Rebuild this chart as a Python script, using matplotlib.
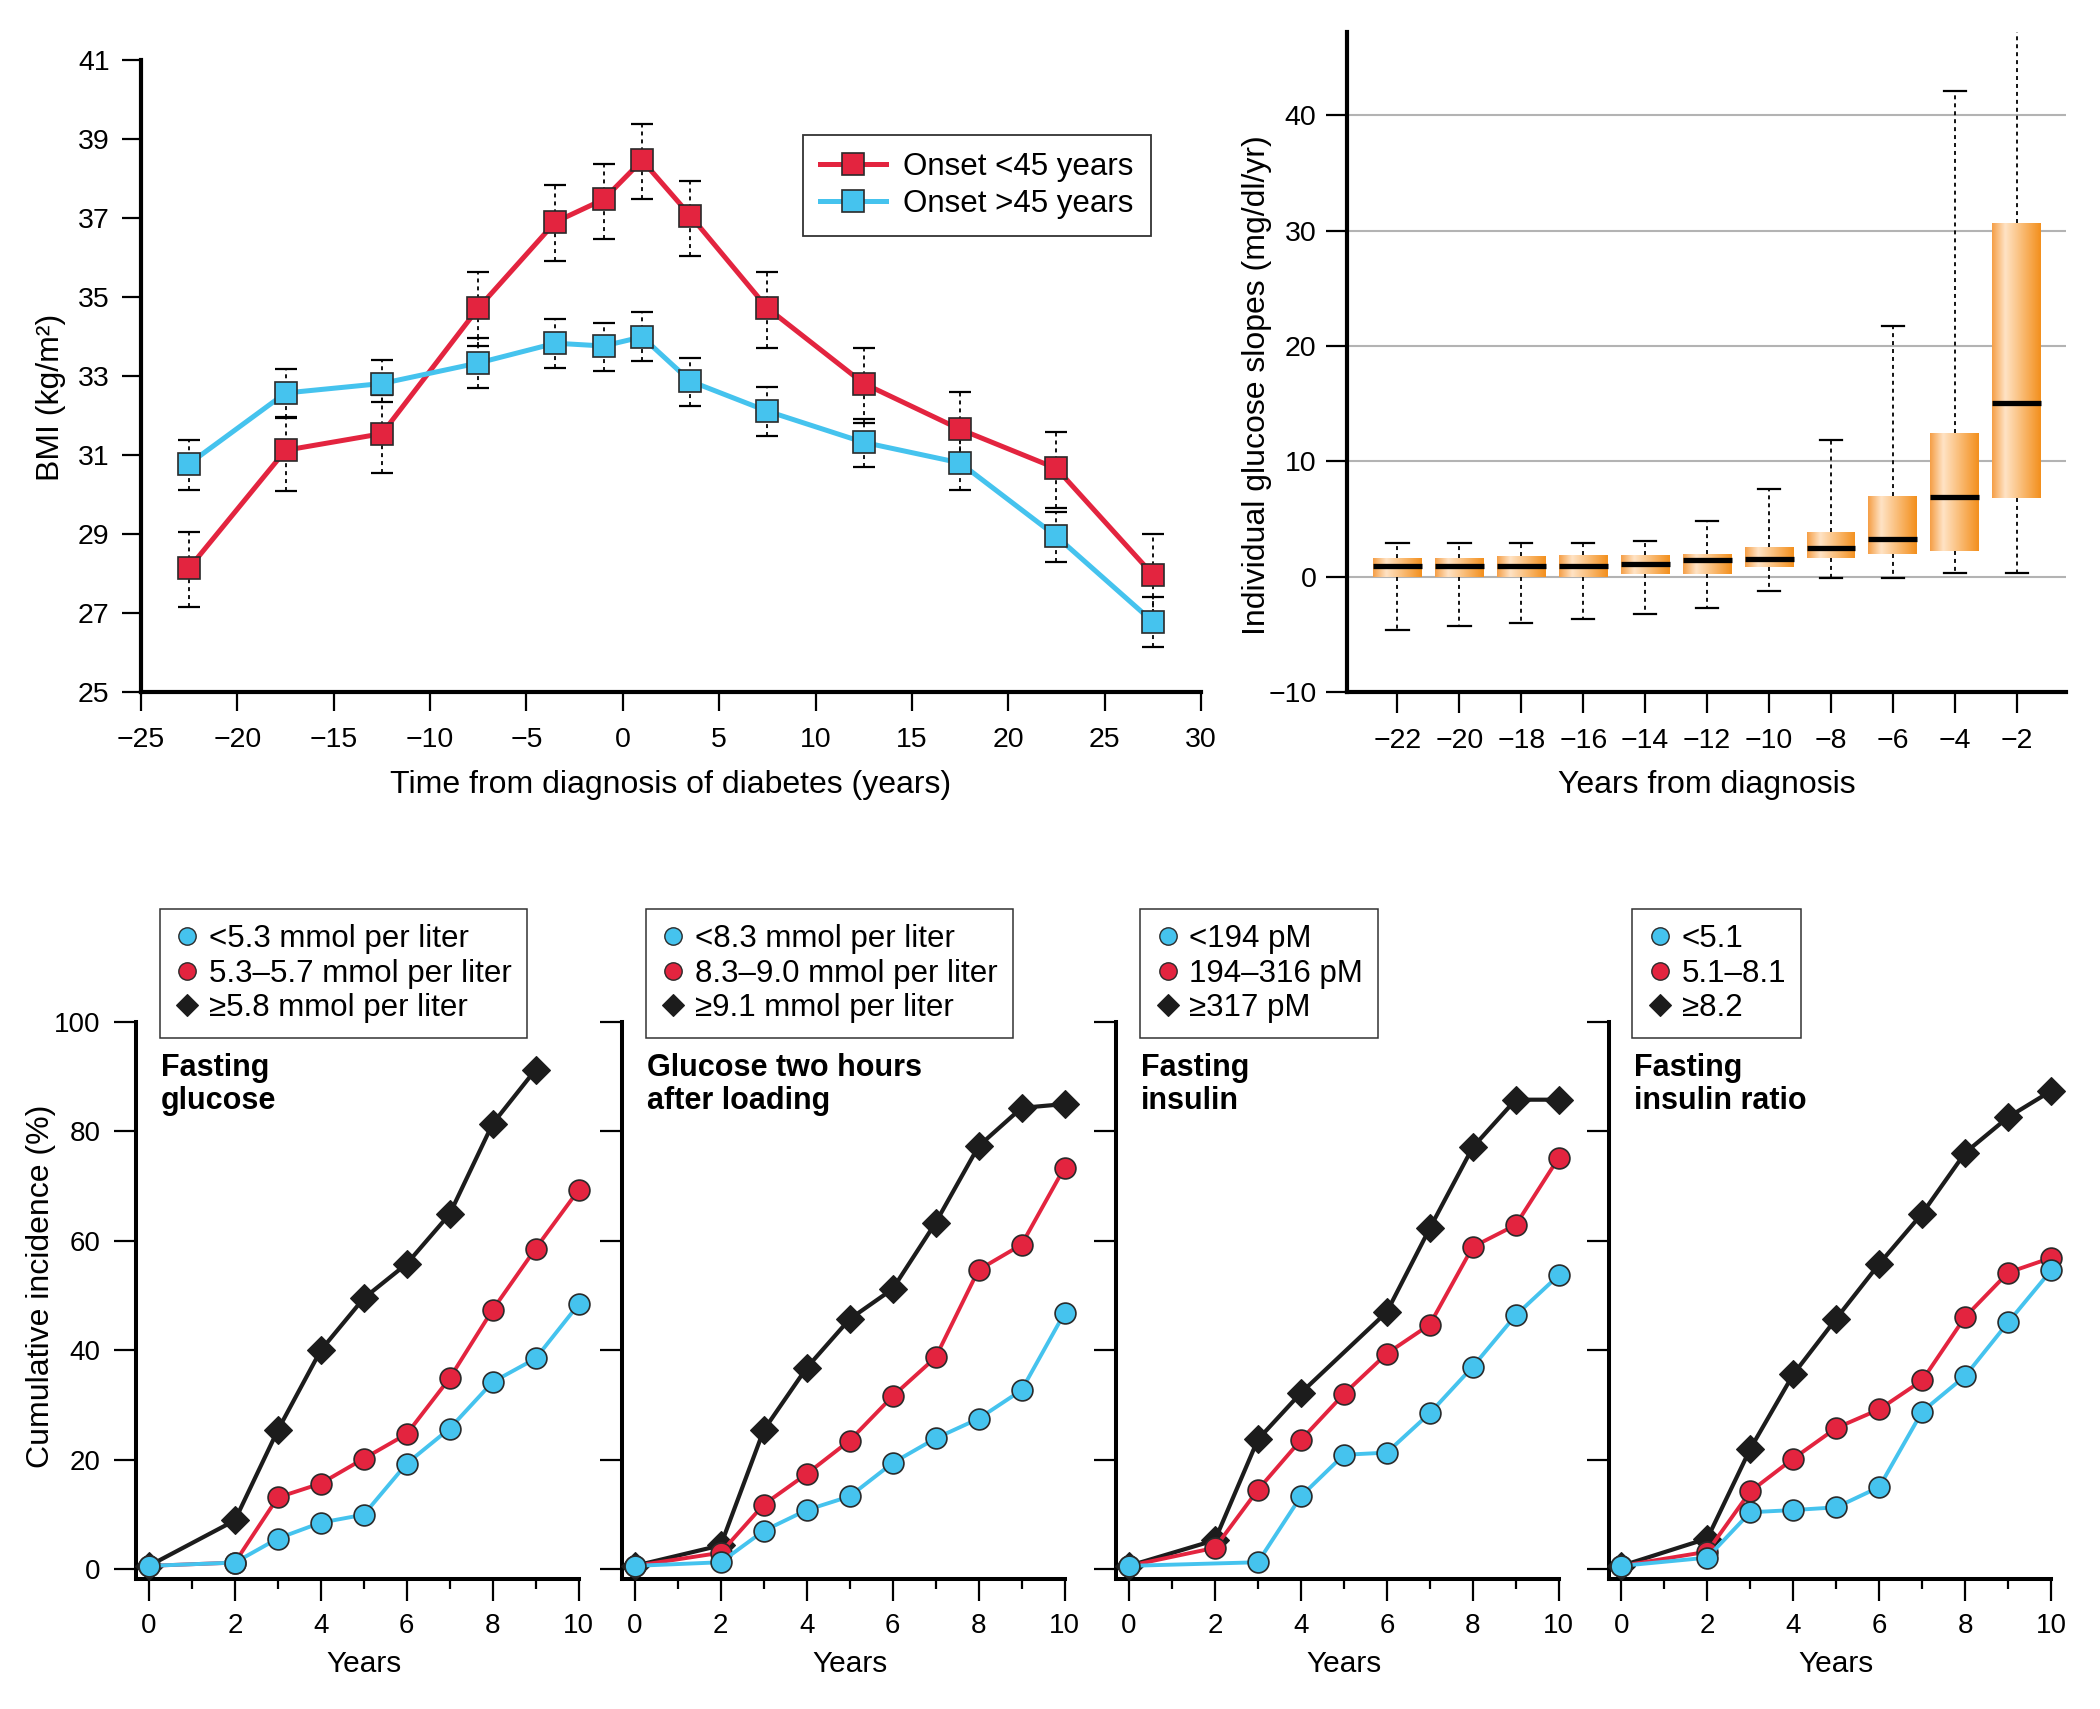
import numpy as np
import matplotlib
matplotlib.use('Agg')
import matplotlib.pyplot as plt
from matplotlib.colors import LinearSegmentedColormap
from matplotlib.lines import Line2D
from matplotlib.ticker import MultipleLocator

plt.rcParams['font.family'] = ['Liberation Sans', 'DejaVu Sans']

RED = '#E3243F'
CYAN = '#45C3EE'
BLACK = '#1C1C1C'
EDGE = '#2A2A2A'

# ---------------- Panel A: BMI trajectories ----------------
bmi_time = [-22.5, -17.5, -12.5, -7.5, -3.5, -1, 1, 3.5, 7.5, 12.5, 17.5, 22.5, 27.5]
bmi_young = [28.14, 31.12, 31.54, 34.72, 36.90, 37.47, 38.46, 37.06, 34.72, 32.81, 31.65, 30.66, 27.97]
bmi_young_lo = [27.15, 30.10, 30.55, 33.75, 35.92, 36.48, 37.47, 36.04, 33.72, 31.80, 30.68, 29.66, 27.00]
bmi_young_hi = [29.06, 31.97, 32.53, 35.63, 37.83, 38.37, 39.37, 37.94, 35.63, 33.72, 32.59, 31.57, 29.00]
bmi_old = [30.78, 32.57, 32.81, 33.33, 33.83, 33.76, 33.99, 32.87, 32.11, 31.32, 30.80, 28.94, 26.78]
bmi_old_lo = [30.11, 31.94, 32.34, 32.69, 33.20, 33.12, 33.37, 32.23, 31.49, 30.70, 30.11, 28.30, 26.15]
bmi_old_hi = [31.37, 33.17, 33.41, 33.95, 34.45, 34.33, 34.61, 33.45, 32.72, 31.91, 31.41, 29.56, 27.40]
bmi_labels = ['Onset <45 years', 'Onset >45 years']

# ---------------- Panel B: glucose slope boxes ----------------
box_years = [-22, -20, -18, -16, -14, -12, -10, -8, -6, -4, -2]
box_low = [-4.63, -4.30, -4.00, -3.67, -3.27, -2.68, -1.27, -0.09, -0.09, 0.32, 0.32]
box_q1 = [0.0, 0.0, 0.0, 0.0, 0.27, 0.23, 0.86, 1.59, 1.95, 2.22, 6.80]
box_med = [0.95, 0.95, 0.95, 0.95, 1.09, 1.45, 1.54, 2.49, 3.27, 6.89, 15.10]
box_q3 = [1.60, 1.60, 1.80, 1.86, 1.86, 2.00, 2.54, 3.85, 7.03, 12.43, 30.66]
box_high = [2.90, 2.90, 2.90, 2.90, 3.08, 4.80, 7.62, 11.88, 21.77, 42.09, 55.0]

# ---------------- Panels C-F: cumulative incidence ----------------
years = [0, 2, 3, 4, 5, 6, 7, 8, 9, 10]

fg_low_x = years
fg_low = [0.6, 1.2, 5.6, 8.5, 9.95, 19.3, 25.7, 34.2, 38.5, 48.4]
fg_mid_x = years
fg_mid = [0.6, 1.2, 13.1, 15.65, 20.2, 24.7, 34.9, 47.4, 58.6, 69.3]
fg_high_x = [0, 2, 3, 4, 5, 6, 7, 8, 9]
fg_high = [0.6, 8.9, 25.4, 40.0, 49.5, 55.8, 64.9, 81.4, 91.3]

g2_low_x = years
g2_low = [0.6, 1.26, 7.0, 10.8, 13.3, 19.4, 23.9, 27.5, 32.7, 46.8]
g2_mid_x = years
g2_mid = [0.6, 3.0, 11.8, 17.4, 23.5, 31.6, 38.7, 54.7, 59.3, 73.4]
g2_high_x = years
g2_high = [0.6, 4.35, 25.4, 36.8, 45.7, 51.2, 63.3, 77.3, 84.3, 85.0]

fi_low_x = [0, 3, 4, 5, 6, 7, 8, 9, 10]
fi_low = [0.6, 1.26, 13.3, 20.9, 21.3, 28.5, 37.0, 46.4, 53.7]
fi_mid_x = years
fi_mid = [0.6, 3.9, 14.5, 23.6, 32.0, 39.4, 44.7, 58.9, 62.9, 75.2]
fi_high_x = [0, 2, 3, 4, 6, 7, 8, 9, 10]
fi_high = [0.6, 5.3, 23.7, 32.2, 47.0, 62.3, 77.1, 85.8, 85.8]

fr_low_x = years
fr_low = [0.6, 2.1, 10.4, 10.8, 11.3, 15.0, 28.8, 35.3, 45.1, 54.6]
fr_mid_x = years
fr_mid = [0.6, 3.2, 14.2, 20.2, 25.8, 29.2, 34.5, 46.1, 54.2, 56.9]
fr_high_x = years
fr_high = [0.6, 5.6, 22.0, 35.6, 45.8, 55.8, 65.0, 76.1, 82.6, 87.4]

panel_titles = ['Fasting\nglucose', 'Glucose two hours\nafter loading',
                'Fasting\ninsulin', 'Fasting\ninsulin ratio']
legend_fg = ['<5.3 mmol per liter', '5.3\u20135.7 mmol per liter', '\u22655.8 mmol per liter']
legend_g2 = ['<8.3 mmol per liter', '8.3\u20139.0 mmol per liter', '\u22659.1 mmol per liter']
legend_fi = ['<194 pM', '194\u2013316 pM', '\u2265317 pM']
legend_fr = ['<5.1', '5.1\u20138.1', '\u22658.2']

W, H = 2100, 1709
fig = plt.figure(figsize=(W / 100, H / 100), dpi=100)


def frac(left, top, right, bottom):
    return [left / W, 1 - bottom / H, (right - left) / W, (bottom - top) / H]


# ======== Panel A ========
ax1 = fig.add_axes(frac(141, 60, 1201, 692))
for y, lo, hi in [(bmi_young, bmi_young_lo, bmi_young_hi),
                  (bmi_old, bmi_old_lo, bmi_old_hi)]:
    yerr = [np.array(y) - np.array(lo), np.array(hi) - np.array(y)]
    eb = ax1.errorbar(bmi_time, y, yerr=yerr, fmt='none', ecolor='black',
                      elinewidth=1.3, capsize=8, capthick=1.6, zorder=2)
    eb[2][0].set_linestyle((0, (2.2, 2.2)))
for y, col, lab, z in [(bmi_young, RED, bmi_labels[0], 3), (bmi_old, CYAN, bmi_labels[1], 4)]:
    ax1.plot(bmi_time, y, color=col, lw=3.6, marker='s', ms=16, mfc=col,
             mec=EDGE, mew=1.2, label=lab, zorder=z, clip_on=False)
ax1.set_xlim(-25, 30)
ax1.set_ylim(25, 41)
ax1.set_xticks(range(-25, 31, 5))
ax1.set_yticks(range(25, 42, 2))
for s in ['top', 'right']:
    ax1.spines[s].set_visible(False)
for s in ['left', 'bottom']:
    ax1.spines[s].set_linewidth(3)
ax1.tick_params(axis='both', direction='out', length=14, width=1.6, labelsize=20.5)
ax1.tick_params(axis='x', pad=11)
ax1.tick_params(axis='y', pad=8.6)
ax1.set_xlabel('Time from diagnosis of diabetes (years)', fontsize=23)
ax1.xaxis.set_label_coords(0.5, -0.123)
ax1.set_ylabel('BMI (kg/m\u00b2)', fontsize=23)
ax1.yaxis.set_label_coords(-0.071, 0.466)
leg = ax1.legend(loc='upper left', bbox_to_anchor=(0.6245, 0.881), borderaxespad=0,
                 fontsize=22.5, frameon=True, fancybox=False, edgecolor='black',
                 handlelength=2.1, handletextpad=0.55, borderpad=0.55, labelspacing=0.2)
leg.get_frame().set_linewidth(1.3)

# ======== Panel B ========
ax2 = fig.add_axes(frac(1347, 32.4, 2066, 692))
stats = []
for lo, q1, md, q3, hi in zip(box_low, box_q1, box_med, box_q3, box_high):
    stats.append(dict(whislo=lo, q1=q1, med=md, q3=q3, whishi=hi, fliers=[]))
bw = 1.58
bp = ax2.bxp(stats, positions=box_years, widths=bw, patch_artist=True,
             showfliers=False, capwidths=0.72,
             boxprops=dict(facecolor='#F7A64E', edgecolor='none', linewidth=0),
             medianprops=dict(color='black', linewidth=3.8, solid_capstyle='butt', zorder=5),
             whiskerprops=dict(color='black', linewidth=1.3, linestyle=(0, (2.2, 2.2))),
             capprops=dict(color='black', linewidth=1.6), manage_ticks=False)
for w in bp['whiskers']:
    w.set_zorder(1.5)
for c in bp['caps']:
    c.set_zorder(1.5)
box_cmap = LinearSegmentedColormap.from_list(
    'boxgrad', [(0.0, '#F59E45'), (0.27, '#FFE3C5'), (0.6, '#FABD78'), (1.0, '#F38F1C')])
grad = np.linspace(0, 1, 256).reshape(1, -1)
for patch, pos, q1, q3 in zip(bp['boxes'], box_years, box_q1, box_q3):
    patch.set_zorder(2.4)
    im = ax2.imshow(grad, extent=(pos - bw / 2, pos + bw / 2, q1, q3), aspect='auto',
                    cmap=box_cmap, interpolation='bilinear', zorder=2.5)
    im.set_clip_path(patch)
ax2.set_xlim(-23.63, -0.41)
ax2.set_ylim(-10, 47.2)
ax2.set_xticks(box_years)
ax2.set_yticks([-10, 0, 10, 20, 30, 40])
ax2.yaxis.grid(True, color='#B3B3B3', linewidth=1.5, zorder=0)
ax2.set_axisbelow(True)
for s in ['top', 'right']:
    ax2.spines[s].set_visible(False)
for s in ['left', 'bottom']:
    ax2.spines[s].set_linewidth(3)
    ax2.spines[s].set_zorder(6)
ax2.tick_params(axis='both', direction='out', length=15, width=1.6, labelsize=20.5)
ax2.tick_params(axis='x', pad=11)
ax2.tick_params(axis='y', pad=7)
ax2.set_xlabel('Years from diagnosis', fontsize=23)
ax2.xaxis.set_label_coords(0.5, -0.118)
ax2.set_ylabel('Individual glucose slopes (mg/dl/yr)', fontsize=23)
ax2.yaxis.set_label_coords(-0.104, 0.465)

# ======== Panels C-F ========
panels = [
    ((fg_low_x, fg_low), (fg_mid_x, fg_mid), (fg_high_x, fg_high), legend_fg),
    ((g2_low_x, g2_low), (g2_mid_x, g2_mid), (g2_high_x, g2_high), legend_g2),
    ((fi_low_x, fi_low), (fi_mid_x, fi_mid), (fi_high_x, fi_high), legend_fi),
    ((fr_low_x, fr_low), (fr_mid_x, fr_mid), (fr_high_x, fr_high), legend_fr),
]
lefts = [136, 621.9, 1116.1, 1608.5]
pw = 442.6
for i, (low, mid, high, labels) in enumerate(panels):
    ax = fig.add_axes(frac(lefts[i], 1022, lefts[i] + pw, 1579))
    ax.plot(high[0], high[1], color=BLACK, lw=3, marker='D', ms=14, mfc=BLACK,
            mec=BLACK, mew=0.8, zorder=3, clip_on=False)
    ax.plot(mid[0], mid[1], color=RED, lw=2.8, marker='o', ms=15, mfc=RED,
            mec=EDGE, mew=1.2, zorder=4, clip_on=False)
    ax.plot(low[0], low[1], color=CYAN, lw=2.8, marker='o', ms=15, mfc=CYAN,
            mec=EDGE, mew=1.2, zorder=5, clip_on=False)
    ax.set_xlim(-0.3, 10)
    ax.set_ylim(-1.8, 100)
    ax.xaxis.set_major_locator(MultipleLocator(2))
    ax.xaxis.set_minor_locator(MultipleLocator(1))
    ax.set_yticks([0, 20, 40, 60, 80, 100])
    for s in ['top', 'right']:
        ax.spines[s].set_visible(False)
    for s in ['left', 'bottom']:
        ax.spines[s].set_linewidth(2.9)
    ax.tick_params(axis='both', which='major', direction='out', length=15.5, width=1.6,
                   labelsize=20)
    ax.tick_params(axis='x', which='minor', direction='out', length=7.5, width=1.6)
    ax.tick_params(axis='x', pad=9)
    ax.tick_params(axis='y', pad=10)
    if i > 0:
        ax.tick_params(axis='y', labelleft=False)
    else:
        ax.set_ylabel('Cumulative incidence (%)', fontsize=23)
        ax.yaxis.set_label_coords(-0.18, 0.526)
    ax.set_xlabel('Years', fontsize=21.5)
    ax.xaxis.set_label_coords(0.515, -0.128)
    ax.text(0.057, 0.945, panel_titles[i], transform=ax.transAxes, ha='left', va='top',
            fontsize=22, fontweight='bold', linespacing=1.15)
    handles = [
        Line2D([], [], linestyle='none', marker='o', ms=12.5, mfc=CYAN, mec=EDGE, mew=1.0),
        Line2D([], [], linestyle='none', marker='o', ms=12.5, mfc=RED, mec=EDGE, mew=1.0),
        Line2D([], [], linestyle='none', marker='D', ms=11.5, mfc=BLACK, mec=BLACK, mew=0.8),
    ]
    lg = ax.legend(handles, labels, loc='upper left', bbox_to_anchor=(0.054, 1.203),
                   borderaxespad=0, fontsize=22.5, frameon=True, fancybox=False,
                   edgecolor='black', handlelength=0.8, handletextpad=0.3,
                   borderpad=0.48, labelspacing=0.15)
    lg.get_frame().set_linewidth(1.1)

fig.savefig('out.png', dpi=100)
